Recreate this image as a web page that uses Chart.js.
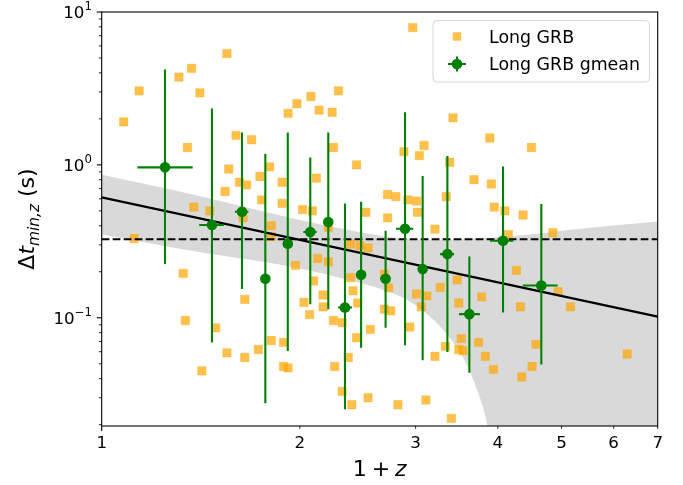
<!DOCTYPE html>
<html><head><meta charset="utf-8">
<script src="https://cdn.jsdelivr.net/npm/chart.js@4"></script>
<style>html,body{margin:0;padding:0;background:#fff;overflow:hidden}canvas{display:block}</style>
</head><body>
<canvas id="c" width="683" height="485"></canvas>
<script>
// ---- data ----
const longZ1 = [1.08,1.14,1.31,1.37,1.41,1.55,1.35,1.60,1.69,1.56,1.62,1.66,1.54,1.38,1.46,1.64,1.74,1.80,1.88,1.75,1.88,1.92,1.98,2.08,2.14,2.24,2.29,2.25,2.12,2.02,2.09,2.44,2.52,2.72,2.72,2.80,2.97,3.42,3.89,4.50,3.09,2.88,3.04,3.38,3.68,3.91,2.92,3.01,3.34,3.02,3.95,4.10,4.37,1.81,1.81,2.21,1.12,1.33,1.97,2.13,2.21,2.39,2.39,2.47,2.54,2.69,2.73,2.10,2.41,2.17,1.65,2.03,2.17,2.45,2.69,2.75,1.34,2.07,2.25,2.32,1.49,2.56,2.44,1.81,1.89,1.73,1.55,1.65,2.37,1.42,1.89,1.92,2.26,2.32,2.54,2.40,3.21,4.15,4.85,4.27,3.47,3.27,3.01,3.12,3.06,3.49,3.78,4.33,4.94,5.16,2.94,3.52,3.33,3.49,3.54,3.74,3.21,3.83,3.94,4.57,4.51,4.35,6.29,2.82,3.11,3.40];
const longDt = [1.91,3.05,3.75,4.28,2.96,5.34,1.30,1.56,1.46,0.94,0.77,0.74,0.67,0.53,0.50,0.45,0.84,0.97,0.77,0.59,0.56,2.17,2.51,2.80,2.28,2.21,3.05,1.30,0.82,0.51,0.50,1.00,0.49,0.64,0.45,0.62,7.90,2.03,1.50,1.30,1.34,1.22,1.15,1.04,0.80,0.75,0.59,0.58,0.62,0.49,0.53,0.50,0.47,0.40,0.34,0.39,0.33,0.195,0.22,0.244,0.232,0.183,0.304,0.296,0.286,0.193,0.157,0.174,0.150,0.141,0.132,0.126,0.118,0.125,0.114,0.111,0.096,0.105,0.096,0.093,0.086,0.084,0.074,0.071,0.069,0.062,0.059,0.055,0.055,0.045,0.048,0.047,0.048,0.033,0.030,0.027,0.38,0.35,0.36,0.204,0.177,0.158,0.143,0.139,0.118,0.125,0.137,0.118,0.148,0.118,0.087,0.073,0.065,0.062,0.061,0.069,0.056,0.056,0.046,0.067,0.048,0.041,0.058,0.027,0.029,0.022];

const gmeanZ1   = [1.248,1.471,1.634,1.773,1.918,2.075,2.210,2.343,2.479,2.701,2.891,3.075,3.353,3.621,4.074,4.658];
const gmeanDt   = [0.964,0.4045,0.494,0.180,0.305,0.364,0.423,0.1167,0.191,0.180,0.3825,0.2083,0.261,0.1056,0.319,0.1626];
const gmeanDtLo = [0.2245,0.0688,0.154,0.0276,0.0607,0.1228,0.1139,0.0252,0.0638,0.0862,0.0661,0.0527,0.0598,0.0437,0.1082,0.0494];
const gmeanDtHi = [4.21,2.338,1.628,1.181,1.628,1.116,1.628,0.560,0.575,0.371,2.211,0.847,1.145,0.2518,0.975,0.555];
const gmeanZ1Lo = [1.133,1.407,1.594,1.760,1.918,2.025,2.210,2.287,2.479,2.649,2.801,3.075,3.268,3.493,3.893,4.365];
const gmeanZ1Hi = [1.375,1.534,1.671,1.790,1.918,2.122,2.210,2.402,2.479,2.744,2.976,3.075,3.432,3.758,4.223,4.933];

const fitZ1 = [1, 7];
const fitDt = [0.613, 0.1018];
const levelDt = 0.326;

const bandZ1    = [1.0,1.25,1.5,1.75,2.0,2.3,2.6,2.9,3.2,3.3,3.4,3.5,3.6,3.7,3.8,3.85,3.9,4.2,5.0,6.0,7.0];
const bandUpper = [0.862,0.704,0.587,0.499,0.436,0.385,0.349,0.326,0.323,0.323,0.324,0.326,0.328,0.330,0.332,0.333,0.334,0.341,0.371,0.402,0.427];
const bandLower = [0.350,0.294,0.257,0.233,0.210,0.183,0.159,0.132,0.0965,0.0839,0.0718,0.060,0.048,0.036,0.0258,0.0206,0.0155,0.005,0.005,0.005,0.005];

const xTickValues = [1,2,3,4,5,6,7];
const xTickLabels = ['1','2','3','4','5','6','7'];
const yMajorValues = [0.1, 1, 10];
const yMajorExponents = ['\u22121','0','1'];
const yMinorValues = [0.02,0.03,0.04,0.05,0.06,0.07,0.08,0.09,0.2,0.3,0.4,0.5,0.6,0.7,0.8,0.9,2,3,4,5,6,7,8,9];

const seriesLabels = ['Long GRB', 'Long GRB gmean'];
const xTitle = ['1', '+', 'z'];
const yTitle = ['\u0394', 't', 'min,z', ' (s)'];

// ---- styling ----
const FONT = '"DejaVu Sans"';
const TICK_FS = 16.7, LEG_FS = 17.4, LAB_FS = 22;
const ORANGE = 'rgba(255,165,0,0.7)';
const GREEN = '#008000';

const pts = (xs, ys) => xs.map((x, i) => ({x, y: ys[i]}));

const errorBars = {
  id: 'errorBars',
  beforeDatasetDraw(chart, args) {
    if (args.index !== 5) return;
    const {ctx, scales: {x, y}, chartArea: a} = chart;
    ctx.save();
    ctx.beginPath(); ctx.rect(a.left, a.top, a.right - a.left, a.bottom - a.top); ctx.clip();
    ctx.strokeStyle = GREEN; ctx.lineWidth = 2.1; ctx.lineCap = 'butt';
    gmeanZ1.forEach((gx, i) => {
      const px = x.getPixelForValue(gx), py = y.getPixelForValue(gmeanDt[i]);
      ctx.beginPath();
      ctx.moveTo(px, y.getPixelForValue(gmeanDtLo[i])); ctx.lineTo(px, y.getPixelForValue(gmeanDtHi[i]));
      const x0 = x.getPixelForValue(gmeanZ1Lo[i]), x1 = x.getPixelForValue(gmeanZ1Hi[i]);
      if (x1 - x0 > 0.5) { ctx.moveTo(x0, py); ctx.lineTo(x1, py); }
      ctx.stroke();
    });
    ctx.restore();
  }
};

const axesDecor = {
  id: 'axesDecor',
  afterDatasetsDraw(chart) {
    const {ctx, chartArea: a} = chart;
    ctx.save();
    ctx.strokeStyle = '#000'; ctx.lineWidth = 1.1;
    ctx.strokeRect(a.left, a.top, a.right - a.left, a.bottom - a.top);
    ctx.restore();
  },
  afterDraw(chart) {
    const {ctx, chartArea: a, scales: {x, y}} = chart;
    ctx.save();
    ctx.strokeStyle = '#000'; ctx.fillStyle = '#000';
    // x ticks
    xTickValues.forEach((v, i) => {
      const px = x.getPixelForValue(v);
      const len = (v === 1) ? 4.9 : 2.8;
      ctx.lineWidth = (v === 1) ? 1.1 : 0.85;
      ctx.beginPath(); ctx.moveTo(px, a.bottom); ctx.lineTo(px, a.bottom + len); ctx.stroke();
      ctx.font = `${TICK_FS}px ${FONT}`; ctx.textAlign = 'center'; ctx.textBaseline = 'alphabetic';
      ctx.fillText(xTickLabels[i], px, a.bottom + 22);
    });
    // y minor ticks
    ctx.lineWidth = 0.85;
    yMinorValues.forEach(v => {
      const py = y.getPixelForValue(v);
      if (py > a.bottom + 0.5 || py < a.top - 0.5) return;
      ctx.beginPath(); ctx.moveTo(a.left, py); ctx.lineTo(a.left - 2.8, py); ctx.stroke();
    });
    // y major ticks + labels
    ctx.lineWidth = 1.1;
    yMajorValues.forEach((v, i) => {
      const py = y.getPixelForValue(v);
      ctx.beginPath(); ctx.moveTo(a.left, py); ctx.lineTo(a.left - 4.9, py); ctx.stroke();
      ctx.textAlign = 'left'; ctx.textBaseline = 'alphabetic';
      ctx.font = `${TICK_FS * 0.7}px ${FONT}`;
      const we = ctx.measureText(yMajorExponents[i]).width;
      ctx.font = `${TICK_FS}px ${FONT}`;
      const wb = ctx.measureText('10').width;
      const right = a.left - 9.8;
      ctx.fillText('10', right - we - wb, py + 6.1);
      ctx.font = `${TICK_FS * 0.7}px ${FONT}`;
      ctx.fillText(yMajorExponents[i], right - we, py - 1.6);
    });
    // x title: 1 + z
    ctx.textAlign = 'left'; ctx.textBaseline = 'alphabetic';
    const cx = (a.left + a.right) / 2;
    ctx.font = `${LAB_FS}px ${FONT}`;
    const w1 = ctx.measureText(xTitle[0]).width, wp = ctx.measureText(xTitle[1]).width;
    ctx.font = `italic ${LAB_FS}px ${FONT}`;
    const wz = ctx.measureText(xTitle[2]).width;
    const sp = LAB_FS * 0.222;
    let sx = cx - (w1 + wp + wz + 2 * sp) / 2;
    const by = 476;
    ctx.font = `${LAB_FS}px ${FONT}`;
    ctx.fillText(xTitle[0], sx, by); sx += w1 + sp;
    ctx.fillText(xTitle[1], sx, by); sx += wp + sp;
    ctx.font = `italic ${LAB_FS}px ${FONT}`;
    ctx.fillText(xTitle[2], sx, by);
    // y title
    ctx.save();
    ctx.translate(34, (a.top + a.bottom) / 2);
    ctx.rotate(-Math.PI / 2);
    ctx.font = `${LAB_FS}px ${FONT}`;
    const wD = ctx.measureText(yTitle[0]).width, wS = ctx.measureText(yTitle[3]).width;
    ctx.font = `italic ${LAB_FS}px ${FONT}`;
    const wt = ctx.measureText(yTitle[1]).width;
    ctx.font = `italic ${LAB_FS * 0.7}px ${FONT}`;
    const wsub = ctx.measureText(yTitle[2]).width;
    let tx = -(wD + wt + wsub + wS) / 2;
    ctx.font = `${LAB_FS}px ${FONT}`; ctx.fillText(yTitle[0], tx, 0); tx += wD;
    ctx.font = `italic ${LAB_FS}px ${FONT}`; ctx.fillText(yTitle[1], tx, 0); tx += wt;
    ctx.font = `italic ${LAB_FS * 0.7}px ${FONT}`; ctx.fillText(yTitle[2], tx, 5); tx += wsub;
    ctx.font = `${LAB_FS}px ${FONT}`; ctx.fillText(yTitle[3], tx, 0);
    ctx.restore();
    // legend
    const lx = 433, ly = 20.5, lw = 216.5, lh = 61.5, r = 4;
    ctx.beginPath();
    ctx.moveTo(lx + r, ly); ctx.lineTo(lx + lw - r, ly); ctx.arcTo(lx + lw, ly, lx + lw, ly + r, r);
    ctx.lineTo(lx + lw, ly + lh - r); ctx.arcTo(lx + lw, ly + lh, lx + lw - r, ly + lh, r);
    ctx.lineTo(lx + r, ly + lh); ctx.arcTo(lx, ly + lh, lx, ly + lh - r, r);
    ctx.lineTo(lx, ly + r); ctx.arcTo(lx, ly, lx + r, ly, r); ctx.closePath();
    ctx.fillStyle = 'rgba(255,255,255,0.8)'; ctx.fill();
    ctx.strokeStyle = 'rgba(204,204,204,0.8)'; ctx.lineWidth = 1; ctx.stroke();
    const hx = 457, r1 = 36.5, r2 = 64;
    ctx.fillStyle = ORANGE; ctx.fillRect(hx - 4.2, r1 - 4.2, 8.4, 8.4);
    ctx.strokeStyle = GREEN; ctx.lineWidth = 2.1;
    ctx.beginPath(); ctx.moveTo(hx - 9, r2); ctx.lineTo(hx + 9, r2); ctx.moveTo(hx, r2 - 7.5); ctx.lineTo(hx, r2 + 7.5); ctx.stroke();
    ctx.fillStyle = GREEN; ctx.beginPath(); ctx.arc(hx, r2, 5.3, 0, Math.PI * 2); ctx.fill();
    ctx.fillStyle = '#000'; ctx.font = `${LEG_FS}px ${FONT}`; ctx.textAlign = 'left';
    ctx.fillText(seriesLabels[0], 489, r1 + 6.3);
    ctx.fillText(seriesLabels[1], 489, r2 + 6.3);
    ctx.restore();
  }
};

new Chart(document.getElementById('c'), {
  type: 'scatter',
  data: {
    datasets: [
      { label: 'band upper', data: pts(bandZ1, bandUpper), showLine: true, pointRadius: 0, borderWidth: 0,
        borderColor: 'rgba(0,0,0,0)', backgroundColor: 'rgba(128,128,128,0.3)', fill: '+1',
        cubicInterpolationMode: 'monotone', order: 10 },
      { label: 'band lower', data: pts(bandZ1, bandLower), showLine: true, pointRadius: 0, borderWidth: 0,
        borderColor: 'rgba(0,0,0,0)', fill: false, cubicInterpolationMode: 'monotone', order: 10 },
      { label: seriesLabels[0], data: pts(longZ1, longDt), pointStyle: 'rect', pointRadius: 5.9,
        backgroundColor: ORANGE, borderColor: 'rgba(255,165,0,0.35)', borderWidth: 1, order: 8 },
      { label: 'fit', data: pts(fitZ1, fitDt), showLine: true, pointRadius: 0, borderColor: '#000',
        borderWidth: 2.1, fill: false, order: 6 },
      { label: 'level', data: pts(fitZ1, [levelDt, levelDt]), showLine: true, pointRadius: 0, borderColor: '#000',
        borderWidth: 2.1, borderDash: [7.7, 3.3], fill: false, order: 6 },
      { label: seriesLabels[1], data: pts(gmeanZ1, gmeanDt), pointRadius: 5.3, backgroundColor: GREEN,
        borderColor: GREEN, borderWidth: 0, order: 1 }
    ]
  },
  options: {
    responsive: false, animation: false, devicePixelRatio: 1, events: [],
    layout: { padding: { left: 0, right: 25.3, top: 12, bottom: 0 } },
    plugins: { legend: { display: false }, tooltip: { enabled: false } },
    scales: {
      x: { type: 'logarithmic', min: 1, max: 7, bounds: 'data', position: 'bottom',
           ticks: { display: false }, grid: { display: false }, border: { display: false },
           afterFit(s) { s.height = 59; } },
      y: { type: 'logarithmic', min: 0.0196, max: 10, bounds: 'data', position: 'left',
           ticks: { display: false }, grid: { display: false }, border: { display: false },
           afterFit(s) { s.width = 101.7; } }
    }
  },
  plugins: [errorBars, axesDecor]
});
</script>
</body></html>
